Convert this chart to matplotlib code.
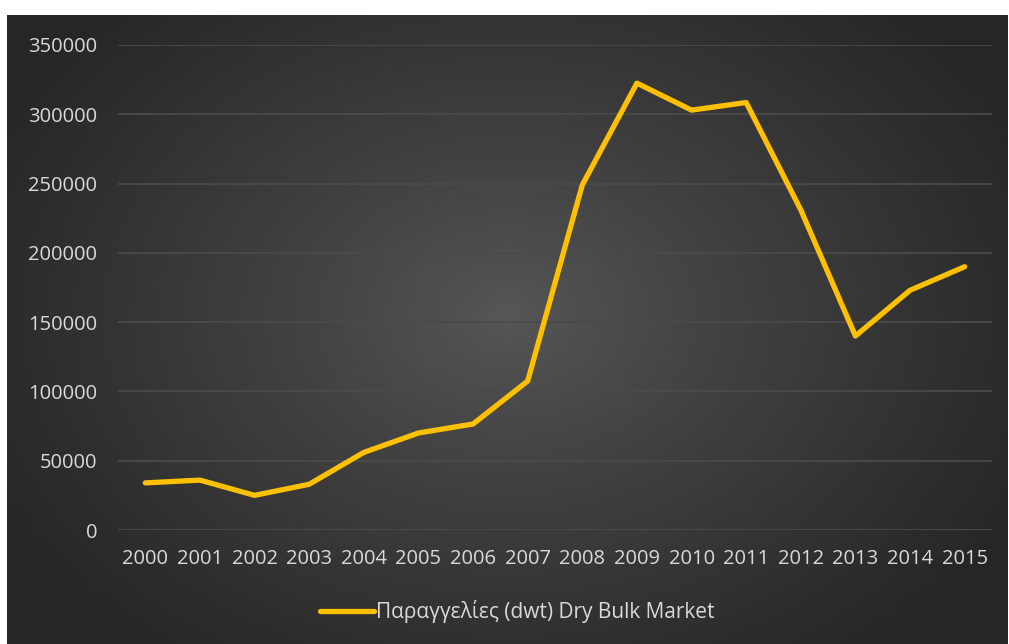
import numpy as np
import matplotlib
matplotlib.use("Agg")
import matplotlib.pyplot as plt

years = ["2000", "2001", "2002", "2003", "2004", "2005", "2006", "2007",
         "2008", "2009", "2010", "2011", "2012", "2013", "2014", "2015"]
orders = [34000, 36000, 25000, 33000, 56000, 70000, 76500, 107500,
          249000, 322500, 303000, 308500, 231000, 140000, 173000, 190000]
series_name = "Παραγγελίες (dwt) Dry Bulk Market"

W, H = 1009, 644
fig = plt.figure(figsize=(W / 100, H / 100), dpi=100)
fig.patch.set_facecolor("white")

# fond sombre avec dégradé radial
bg = fig.add_axes([7 / W, 0, 1001 / W, 629 / H])
bg.set_axis_off()
yy, xx = np.mgrid[0:629, 0:1001]
r = np.sqrt(((xx - 500) / 580.0) ** 2 + ((yy - 300) / 430.0) ** 2)
r = np.clip(r, 0, 1)
c_in, c_out = 0x57 / 255, 0x26 / 255
img = c_in + (c_out - c_in) * r ** 0.85
bg.imshow(np.dstack([img, img, img]), aspect="auto", interpolation="bilinear")

ax = fig.add_axes([118 / W, (H - 530) / H, (992 - 118) / W, (530 - 45) / H])
ax.patch.set_alpha(0)
x = np.arange(len(years))
ax.plot(x, orders, color="#FFC000", lw=3.8, solid_joinstyle="round",
        solid_capstyle="round", label=series_name, zorder=3)

ax.set_xlim(-0.5, len(years) - 0.5)
ax.set_ylim(0, 350000)
ax.set_yticks(np.arange(0, 350001, 50000))
ax.set_xticks(x)
ax.set_xticklabels(years)
ax.grid(axis="y", color="#4a4a4a", lw=1.3)
ax.set_axisbelow(True)
for s in ax.spines.values():
    s.set_visible(False)
ax.tick_params(length=0, colors="#d9d9d9", labelsize=14.5)
ax.tick_params(axis="x", pad=14)
ax.tick_params(axis="y", pad=15)
for lab in ax.get_xticklabels() + ax.get_yticklabels():
    lab.set_family("Open Sans")

leg = ax.legend(loc="center", bbox_to_anchor=(0.457, -0.168), frameon=False,
                prop={"family": "Open Sans", "size": 15}, handlelength=2.6,
                handletextpad=0.1)
for t in leg.get_texts():
    t.set_color("#d9d9d9")

fig.savefig("out.png", dpi=100)
